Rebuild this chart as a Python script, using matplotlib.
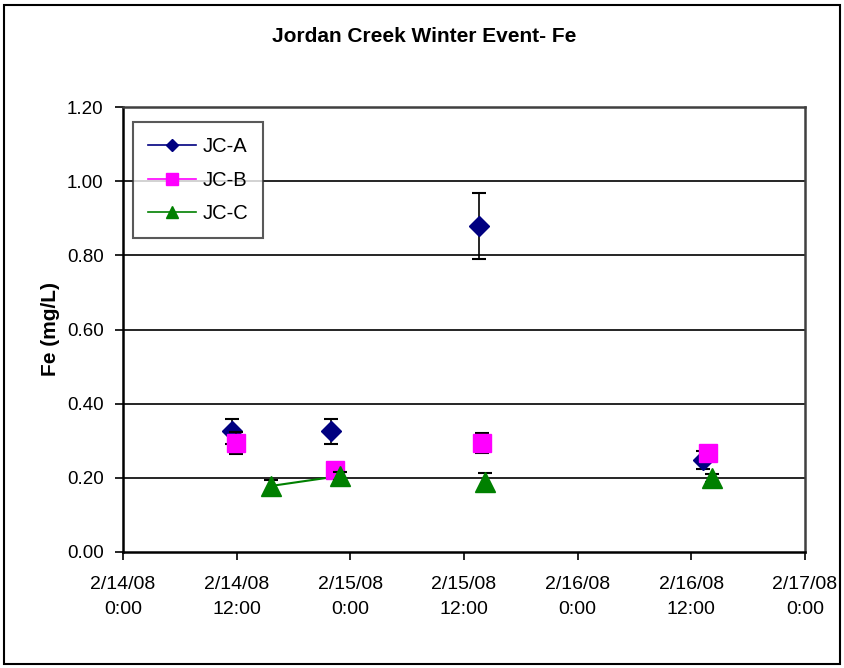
import matplotlib
matplotlib.use("Agg")
import matplotlib.pyplot as plt
from matplotlib.lines import Line2D
from matplotlib.patches import Rectangle
import pandas as pd

plt.rcParams['font.family'] = ['Liberation Sans', 'DejaVu Sans']

# ---- data ----
a_times = ["2008-02-14 11:30", "2008-02-14 22:00", "2008-02-15 13:36", "2008-02-16 13:12"]
a_vals = [0.326, 0.326, 0.879, 0.248]
a_err = [0.034, 0.034, 0.090, 0.025]

b_times = ["2008-02-14 11:54", "2008-02-14 22:24", "2008-02-15 13:54", "2008-02-16 13:48"]
b_vals = [0.294, 0.221, 0.294, 0.267]
b_err = [0.030, 0.011, 0.027, 0.010]

c_times = ["2008-02-14 15:36", "2008-02-14 22:54", "2008-02-15 14:12", "2008-02-16 14:12"]
c_vals = [0.178, 0.205, 0.190, 0.200]
c_err = [0.016, 0.010, 0.024, 0.010]

tick_times = ["2008-02-14 00:00", "2008-02-14 12:00", "2008-02-15 00:00", "2008-02-15 12:00",
              "2008-02-16 00:00", "2008-02-16 12:00", "2008-02-17 00:00"]
tick_labels = ["2/14/08\n0:00", "2/14/08\n12:00", "2/15/08\n0:00", "2/15/08\n12:00",
               "2/16/08\n0:00", "2/16/08\n12:00", "2/17/08\n0:00"]
y_ticks = [0.0, 0.2, 0.4, 0.6, 0.8, 1.0, 1.2]

title = "Jordan Creek Winter Event- Fe"
ylabel = "Fe (mg/L)"

# ---- figure ----
fig = plt.figure(figsize=(8.44, 6.68), dpi=100)
ax = fig.add_axes([123/844, (668-552)/668, (805-123)/844, (552-107)/668])

ta = pd.to_datetime(a_times)
tb = pd.to_datetime(b_times)
tc = pd.to_datetime(c_times)
tt = pd.to_datetime(tick_times)

col_a, col_b, col_c = '#000080', '#FF00FF', '#008000'

# connecting line for JC-C first two points (continuous in source data)
ax.plot(tc[:2], c_vals[:2], color=col_c, lw=1.5, zorder=3)

ax.errorbar(ta, a_vals, yerr=a_err, fmt='none', ecolor='black', elinewidth=1.2, capsize=5, capthick=1.5, zorder=3)
ax.plot(ta, a_vals, ls='none', marker='D', ms=10, color=col_a, zorder=4)
ax.errorbar(tb, b_vals, yerr=b_err, fmt='none', ecolor='black', elinewidth=1.2, capsize=5, capthick=1.5, zorder=5)
ax.plot(tb, b_vals, ls='none', marker='s', ms=13, color=col_b, zorder=6)
ax.errorbar(tc, c_vals, yerr=c_err, fmt='none', ecolor='black', elinewidth=1.2, capsize=5, capthick=1.5, zorder=7)
ax.plot(tc, c_vals, ls='none', marker='^', ms=14, color=col_c, zorder=8)

ax.set_xlim(tt[0], tt[-1])
ax.set_ylim(0, 1.2)
ax.set_xticks(tt)
ax.set_xticklabels(tick_labels, fontsize=14, linespacing=1.65)
ax.set_yticks(y_ticks)
ax.set_yticklabels([f"{v:.2f}" for v in y_ticks], fontsize=13.5)
ax.tick_params(axis='both', direction='out', length=6, width=1.2, color='black', pad=8)
ax.tick_params(axis='x', pad=11)

for v in y_ticks[1:-1]:
    ax.axhline(v, color='black', lw=1.2, zorder=1)

for s in ['left', 'bottom']:
    ax.spines[s].set_color('black')
    ax.spines[s].set_linewidth(1.8)
for s in ['top', 'right']:
    ax.spines[s].set_color('#404040')
    ax.spines[s].set_linewidth(1.8)

ax.set_ylabel(ylabel, fontsize=15, fontweight='bold', labelpad=5)
fig.text(0.502, (668-37)/668, title, ha='center', va='center', fontsize=15, fontweight='bold')

handles = [
    Line2D([], [], color=col_a, marker='D', ms=6, lw=1.2),
    Line2D([], [], color=col_b, marker='s', ms=8, lw=1.2),
    Line2D([], [], color=col_c, marker='^', ms=9, lw=1.2),
]
leg = ax.legend(handles, ["JC-A", "JC-B", "JC-C"], loc='upper left',
                bbox_to_anchor=(10/682, 1 - 15/445), fontsize=14.5, frameon=True,
                fancybox=False, edgecolor='#303030', handlelength=2.4, labelspacing=0.72,
                borderpad=0.75, handletextpad=0.3, borderaxespad=0)
leg.get_frame().set_linewidth(1.5)
leg.set_zorder(10)

fig.patches.append(Rectangle((4/844, 4/668), 836/844, 659/668, transform=fig.transFigure,
                             fill=False, edgecolor='black', lw=1.5))

fig.savefig("out.png", dpi=100)
